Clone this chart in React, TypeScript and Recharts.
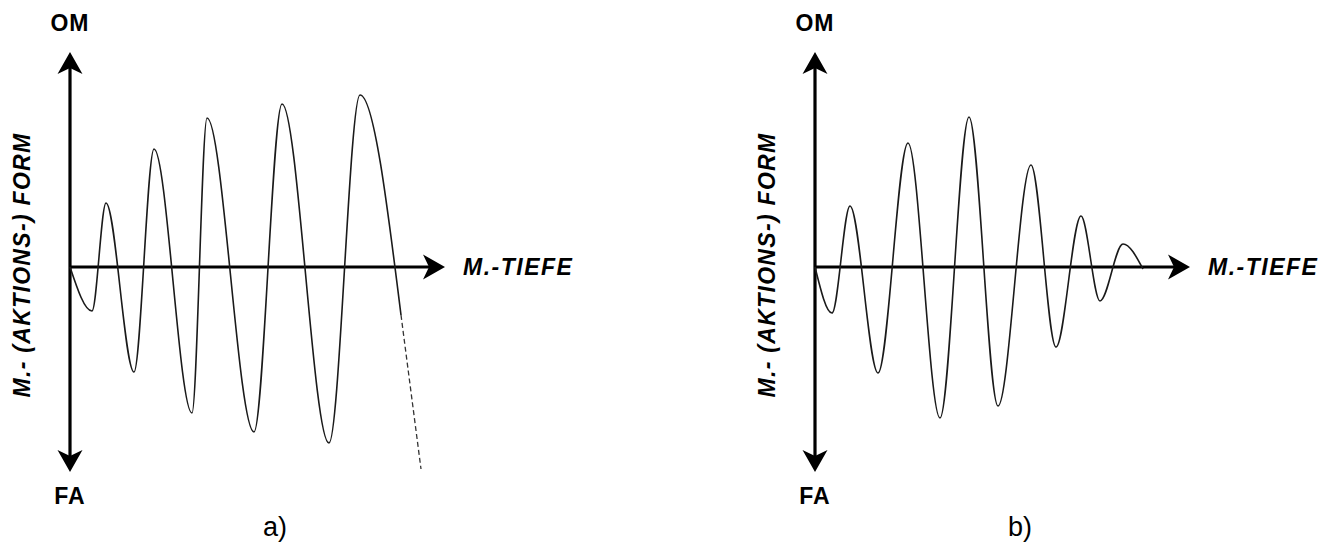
import { Line, LineChart, ReferenceLine, XAxis, YAxis } from "recharts";

// a) Schwingung mit wachsender Amplitude (Ende gestrichelt)
const depthA = [0, 2.2, 3.6, 6.4, 8.4, 12.2, 13.7, 18.4, 21.2, 25.9, 29.0, 33.1];
const formA = [0, -4.4, 6.4, -10.5, 11.8, -14.6, 14.9, -16.5, 16.3, -17.6, 17.2, -4.8];
const depthATail = [33.1, 35.1];
const formATail = [-4.8, -20.2];

// b) Schwingung, die wieder abklingt
const depthB = [0, 1.7, 3.5, 6.3, 9.3, 12.5, 15.4, 18.3, 21.6, 24.1, 26.6, 28.5, 30.8, 32.8];
const formB = [0, -4.6, 6.1, -10.6, 12.4, -15.1, 15.0, -13.9, 10.2, -8.0, 5.1, -3.4, 2.3, -0.2];

const captions = ["a)", "b)"];
const axisDepthEnd = 37.5;
const axisFormTop = 21.5;
const axisFormBottom = -20.5;

const FONT = "'Liberation Sans', Arial, Helvetica, sans-serif";
const toRows = (xs: number[], ys: number[]) => xs.map((depth, i) => ({ depth, form: ys[i] }));

function arrowPath(x: number, y: number, dx: number, dy: number) {
  const len = 22;
  const half = 12.5;
  const notch = 6;
  const px = -dy;
  const py = dx;
  const bx = x - dx * len;
  const by = y - dy * len;
  const nx = x - dx * (len - notch);
  const ny = y - dy * (len - notch);
  return `M${x},${y} L${bx + px * half},${by + py * half} L${nx},${ny} L${bx - px * half},${by - py * half} Z`;
}

function DepthAxis(props: any) {
  const { x1, y1, x2, caption } = props;
  return (
    <g>
      <line x1={x1} y1={y1} x2={x2 - 16} y2={y1} stroke="#000" strokeWidth={3.2} />
      <path d={arrowPath(x2, y1, 1, 0)} fill="#000" />
      <text
        x={x2 + 18}
        y={y1}
        dominantBaseline="central"
        fontFamily={FONT}
        fontSize={23}
        fontWeight="bold"
        fontStyle="italic"
        letterSpacing={1.5}
        fill="#000"
      >
        M.-TIEFE
      </text>
      <text x={x1 + 205} y={527} textAnchor="middle" dominantBaseline="central" fontFamily={FONT} fontSize={27} fill="#000">
        {caption}
      </text>
    </g>
  );
}

function FormAxis(props: any) {
  const { x1, y1, y2 } = props;
  const top = Math.min(y1, y2);
  const bottom = Math.max(y1, y2);
  const mid = (top + bottom) / 2 + 3;
  return (
    <g>
      <line x1={x1} y1={top + 16} x2={x1} y2={bottom - 16} stroke="#000" strokeWidth={3.2} />
      <path d={arrowPath(x1, top, 0, -1)} fill="#000" />
      <path d={arrowPath(x1, bottom, 0, 1)} fill="#000" />
      <text x={x1} y={23} textAnchor="middle" dominantBaseline="central" fontFamily={FONT} fontSize={23} fontWeight="bold" letterSpacing={1} fill="#000">
        OM
      </text>
      <text x={x1} y={496} textAnchor="middle" dominantBaseline="central" fontFamily={FONT} fontSize={23} fontWeight="bold" letterSpacing={1} fill="#000">
        FA
      </text>
      <text
        x={x1 - 48}
        y={mid}
        transform={`rotate(-90 ${x1 - 48} ${mid})`}
        textAnchor="middle"
        dominantBaseline="central"
        fontFamily={FONT}
        fontSize={23}
        fontWeight="bold"
        fontStyle="italic"
        letterSpacing={1.3}
        fill="#000"
      >
        M.- (AKTIONS-) FORM
      </text>
    </g>
  );
}

interface PanelProps {
  left: number;
  caption: string;
  rows: { depth: number; form: number }[];
  tail?: { depth: number; form: number }[];
}

function Panel({ left, caption, rows, tail }: PanelProps) {
  return (
    <div style={{ position: "absolute", left, top: 0 }}>
      <LineChart width={590} height={545} margin={{ top: 0, right: 0, bottom: 0, left: 0 }}>
        <XAxis dataKey="depth" type="number" domain={[-7, 52]} allowDataOverflow hide />
        <YAxis type="number" domain={[-27.8, 26.7]} allowDataOverflow hide />
        <ReferenceLine
          segment={[
            { x: 0, y: 0 },
            { x: axisDepthEnd, y: 0 },
          ]}
          shape={(p: any) => <DepthAxis {...p} caption={caption} />}
        />
        <ReferenceLine
          segment={[
            { x: 0, y: axisFormBottom },
            { x: 0, y: axisFormTop },
          ]}
          shape={(p: any) => <FormAxis {...p} />}
        />
        <Line
          data={rows}
          dataKey="form"
          type="monotone"
          stroke="#1a1a1a"
          strokeWidth={1.6}
          dot={false}
          activeDot={false}
          isAnimationActive={false}
        />
        {tail && (
          <Line
            data={tail}
            dataKey="form"
            type="linear"
            stroke="#333"
            strokeWidth={1.3}
            strokeDasharray="5 3"
            dot={false}
            activeDot={false}
            isAnimationActive={false}
          />
        )}
      </LineChart>
    </div>
  );
}

export default function App() {
  return (
    <div style={{ position: "absolute", left: 0, top: 0, width: 1334, height: 545, background: "#fff" }}>
      <Panel left={0} caption={captions[0]} rows={toRows(depthA, formA)} tail={toRows(depthATail, formATail)} />
      <Panel left={745} caption={captions[1]} rows={toRows(depthB, formB)} />
    </div>
  );
}
